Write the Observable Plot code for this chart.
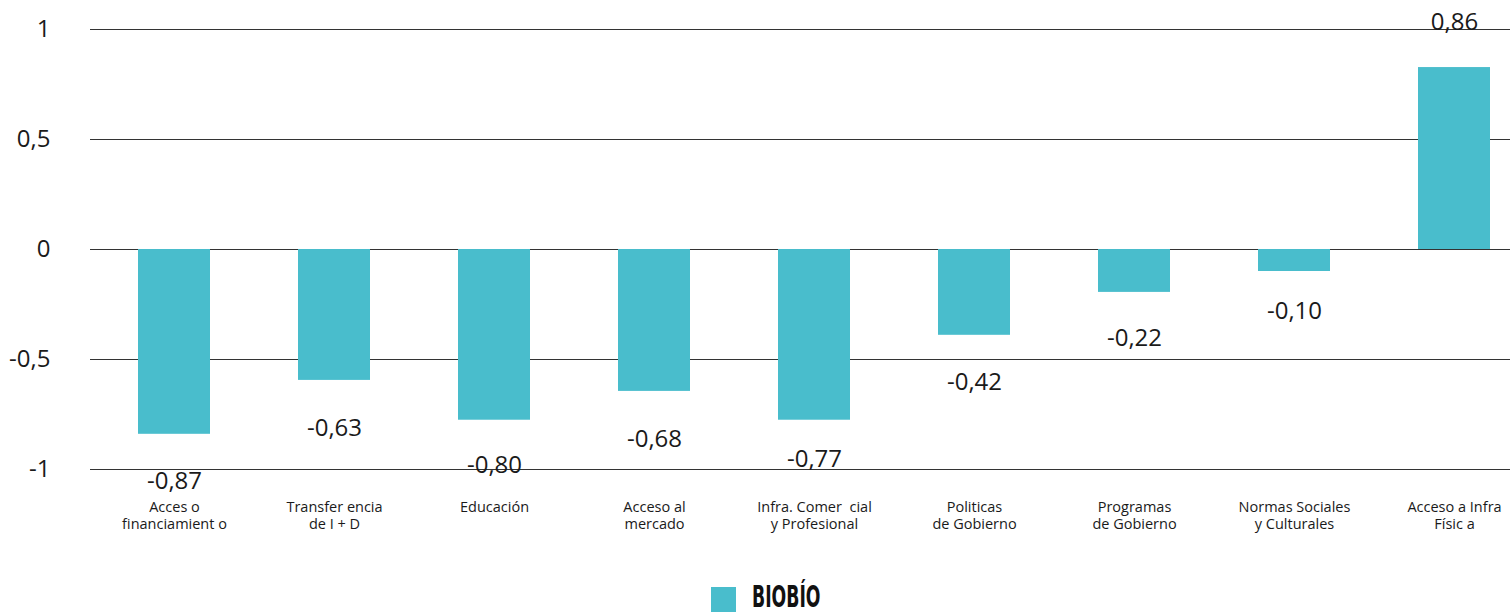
<!DOCTYPE html>
<html>
<head>
<meta charset="utf-8">
<script src="https://cdn.jsdelivr.net/npm/d3@7"></script>
<script src="https://cdn.jsdelivr.net/npm/@observablehq/plot@0.6"></script>
<style>
  html, body { margin: 0; padding: 0; background: #fff; overflow: hidden; }
  #chart svg { display: block; }
  #legend { position: relative; height: 33px; }
  #legend .sw { position: absolute; left: 711px; top: 7px; width: 25px; height: 25px; background: #49bdcc; }
  #legend .lb { position: absolute; left: 752px; top: 2px; font-family: "Liberation Sans Narrow", "DejaVu Sans Condensed", sans-serif; font-weight: bold; font-size: 30px; line-height: 30px; color: #111; transform: scaleX(0.64); transform-origin: left center; }
</style>
</head>
<body>
<div id="chart"></div>
<div id="legend"><div class="sw"></div><div class="lb">BIOBÍO</div></div>
<script>
const categories = [
  "Acces o\nfinanciamient o",
  "Transfer encia\nde I + D",
  "Educación",
  "Acceso al\nmercado",
  "Infra. Comer  cial\ny Profesional",
  "Politicas\nde Gobierno",
  "Programas\nde Gobierno",
  "Normas Sociales\ny Culturales",
  "Acceso a Infra\nFísic a"
];
// bar lengths as drawn in the picture
const barValues = [-0.84, -0.595, -0.776, -0.645, -0.776, -0.39, -0.195, -0.10, 0.827];
// value labels as printed
const labelValues = [-0.87, -0.63, -0.80, -0.68, -0.77, -0.42, -0.22, -0.10, 0.86];
const yTicks = [-1, -0.5, 0, 0.5, 1];
const seriesName = "BIOBÍO";
const barColor = "#49bdcc";

document.querySelector("#legend .lb").textContent = seriesName;

const data = categories.map((c, i) => ({cat: c, bar: barValues[i], label: labelValues[i]}));
const fmt = v => String(v).replace(".", ",");
const fmt2 = v => v.toFixed(2).replace(".", ",");

const chart = Plot.plot({
  width: 1510,
  height: 580,
  marginLeft: 90,
  marginRight: 0,
  marginTop: 29,
  marginBottom: 111,
  style: {fontFamily: "'Open Sans', sans-serif", color: "#1a1a1a", background: "#fff"},
  x: {domain: categories, range: [94, 1534], paddingInner: 0.55, paddingOuter: 0.275, label: null},
  y: {domain: [-1, 1], range: [469, 29], label: null},
  marks: [
    Plot.ruleY(yTicks, {stroke: "#333", strokeWidth: 1.2}),
    Plot.barY(data, {x: "cat", y: "bar", fill: barColor}),
    Plot.text(data.filter(d => d.label < 0), {x: "cat", y: "label", text: d => fmt2(d.label), fontSize: 24, dy: 40, fill: "#1a1a1a"}),
    Plot.text(data.filter(d => d.label >= 0), {x: "cat", y: "label", text: d => fmt2(d.label), fontSize: 24, dy: -38, fill: "#1a1a1a"}),
    Plot.axisY({ticks: yTicks, tickFormat: fmt, tickSize: 0, tickPadding: 40, fontSize: 24, label: null}),
    Plot.axisX({tickSize: 0, tickPadding: 30, fontSize: 14.5, lineHeight: 1.18, label: null})
  ]
});
document.getElementById("chart").appendChild(chart);
</script>
</body>
</html>
